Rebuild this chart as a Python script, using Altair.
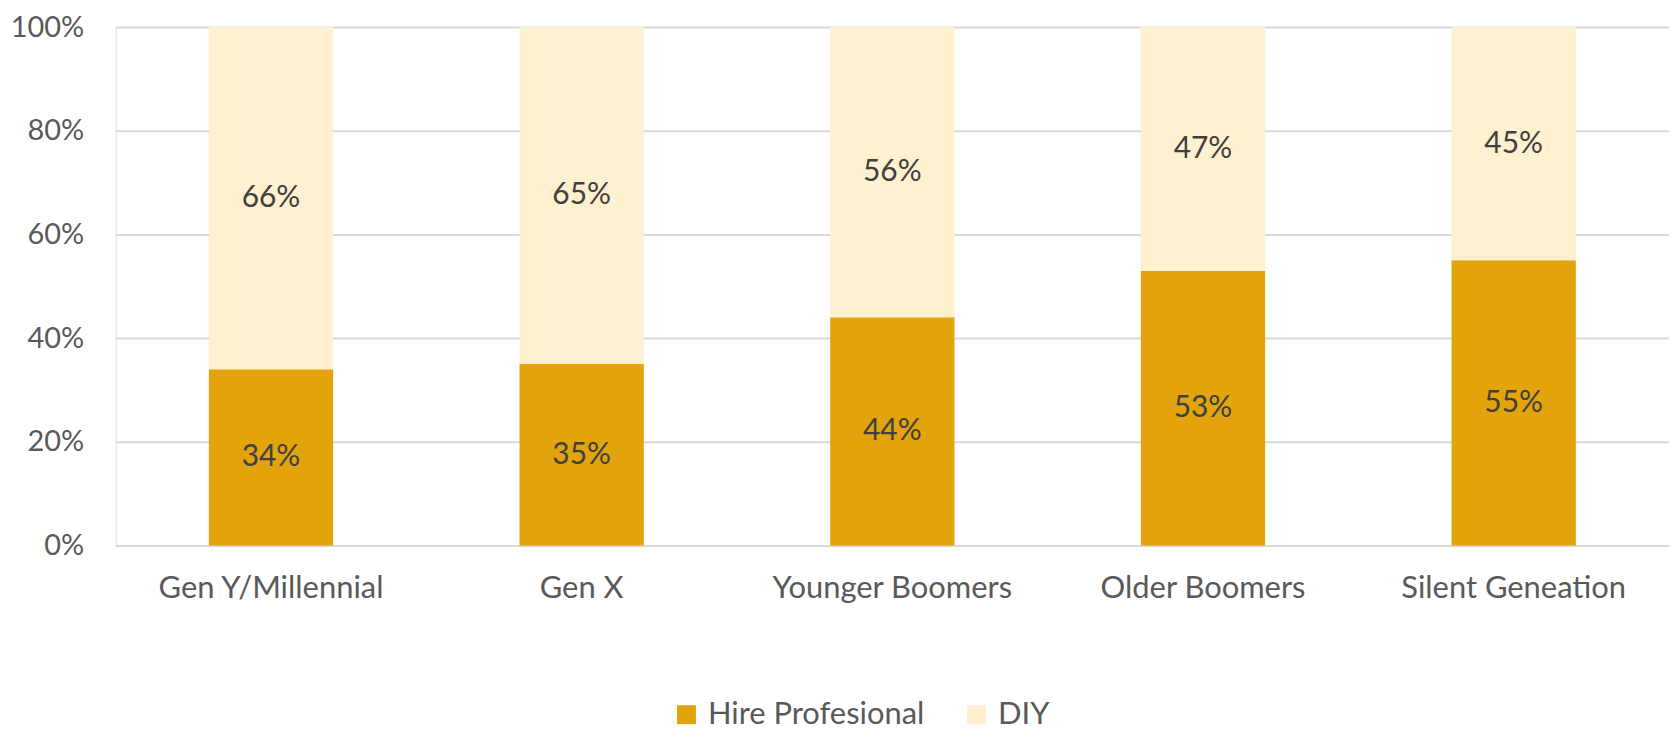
import altair as alt
import pandas as pd

categories = ["Gen Y/Millennial", "Gen X", "Younger Boomers", "Older Boomers", "Silent Geneation"]
hire = [0.34, 0.35, 0.44, 0.53, 0.55]
diy = [0.66, 0.65, 0.56, 0.47, 0.45]
series = ["Hire Profesional", "DIY"]
colors = ["#E2A40A", "#FFF0CF"]
y_ticks = [0, 0.2, 0.4, 0.6, 0.8, 1.0]

rows = []
for i, c in enumerate(categories):
    rows.append({"cat": c, "series": series[0], "value": hire[i], "ord": 0})
    rows.append({"cat": c, "series": series[1], "value": diy[i], "ord": 1})
df = pd.DataFrame(rows)

FONT = "Lato"

base = alt.Chart(df).transform_stack(
    stack="value", groupby=["cat"], as_=["y0", "y1"], sort=[alt.SortField("ord")]
).transform_calculate(mid="(datum.y0 + datum.y1) / 2")

x_enc = alt.X(
    "cat:N", sort=categories, title=None,
    scale=alt.Scale(paddingInner=0.6, paddingOuter=0.3),
    axis=alt.Axis(labelAngle=0, labelFontSize=31, labelColor="#595959", labelFont=FONT,
                  labelPadding=28, labelLimit=400, ticks=False, domain=True, domainColor="#D9D9D9",
                  domainWidth=2, grid=False),
)

bars = base.mark_bar().encode(
    x=x_enc,
    y=alt.Y("y0:Q", title=None,
            scale=alt.Scale(domain=[0, 1], nice=False),
            axis=alt.Axis(values=y_ticks, format=".0%", labelFontSize=29, labelColor="#595959",
                          labelFont=FONT, labelPadding=32, ticks=False, domain=False,
                          grid=True, gridColor="#D9D9D9", gridWidth=2)),
    y2="y1:Q",
    color=alt.Color("series:N", sort=series,
                    scale=alt.Scale(domain=series, range=colors),
                    legend=alt.Legend(title=None, orient="none", direction="horizontal",
                                      legendX=557, legendY=674,
                                      symbolType="square", symbolSize=361, symbolStrokeWidth=0,
                                      symbolOpacity=1, labelLimit=400,
                                      labelFontSize=31, labelColor="#595959", labelFont=FONT,
                                      columnPadding=36, labelOffset=6)),
)

labels = base.mark_text(fontSize=30, color="#404040", font=FONT).encode(
    x=alt.X("cat:N", sort=categories),
    y=alt.Y("mid:Q"),
    text=alt.Text("value:Q", format=".0%"),
)

chart = alt.layer(bars, labels).properties(
    width=1558, height=520,
    autosize=alt.AutoSizeParams(type="none"),
    padding={"left": 108, "top": 18, "right": 0, "bottom": 186},
).configure_view(stroke=None).configure(font=FONT)

chart.save("out.html", embed_options={"renderer": "svg", "actions": False})
